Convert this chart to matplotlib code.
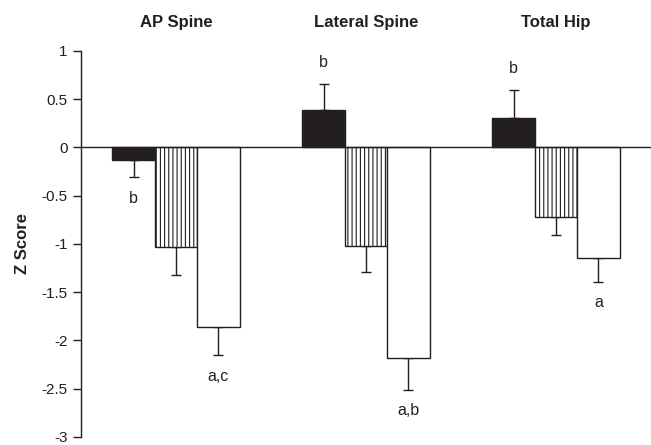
#!/usr/bin/env python3
import matplotlib
matplotlib.use("Agg")
import matplotlib.pyplot as plt
import numpy as np

# regions and groups
regions = ["AP Spine", "Lateral Spine", "Total Hip"]
group_a = [-0.13, 0.39, 0.31]      # solid black bars
group_b = [-1.03, -1.02, -0.72]    # vertical stripes
group_c = [-1.86, -2.18, -1.15]    # white bars
err_a = [0.18, 0.27, 0.29]
err_b = [0.29, 0.27, 0.19]
err_c = [0.29, 0.33, 0.24]
# significance letters, one per bar ("" = none)
sig_a = ["b", "b", "b"]
sig_b = ["", "", ""]
sig_c = ["a,c", "a,b", "a"]

yticks = [1, 0.5, 0, -0.5, -1, -1.5, -2, -2.5, -3]
ytick_labels = ["1", "0.5", "0", "-0.5", "-1", "-1.5", "-2", "-2.5", "-3"]

ink = "#231f20"
plt.rcParams['font.family'] = ['Liberation Sans', 'DejaVu Sans']
plt.rcParams['hatch.linewidth'] = 0.8
plt.rcParams['hatch.color'] = ink

fig = plt.figure(figsize=(6.51, 4.45), dpi=100)
ax = fig.add_axes([0.1244, 0.018, 0.8756, 0.8674])

x = np.arange(len(regions))
w = 0.223

series = [
    (group_a, err_a, sig_a, dict(color=ink, edgecolor=ink)),
    (group_b, err_b, sig_b, dict(color="white", edgecolor=ink, hatch="||||")),
    (group_c, err_c, sig_c, dict(color="white", edgecolor=ink)),
]

for i, (vals, errs, sigs, style) in enumerate(series):
    pos = x + (i - 1) * w
    vals = np.array(vals)
    errs = np.array(errs)
    ax.bar(pos, vals, w, linewidth=1.0, zorder=2, **style)
    # one-sided error bars, pointing away from zero
    lower = np.where(vals < 0, errs, 0)
    upper = np.where(vals >= 0, errs, 0)
    ax.errorbar(pos, vals, yerr=[lower, upper], fmt="none", ecolor=ink,
                elinewidth=1.0, capsize=3.6, capthick=1.0, zorder=1)
    for p, v, e, s in zip(pos, vals, errs, sigs):
        if not s:
            continue
        y = v + e + 0.22 if v >= 0 else v - e - 0.22
        ax.text(p, y, s, ha="center", va="center", fontsize=11.5, color=ink)

for xi, name in zip(x, regions):
    ax.text(xi, 1.3, name, ha="center", va="center", fontsize=12,
            fontweight="bold", color=ink, clip_on=False)

ax.axhline(0, color=ink, linewidth=1.0, zorder=3)

ax.set_xlim(-0.5, 2.5)
ax.set_ylim(-3, 1)
ax.set_yticks(yticks)
ax.set_yticklabels(ytick_labels)
ax.set_xticks([])
ax.tick_params(axis="y", direction="out", length=6, width=1.0, pad=3.5,
               colors=ink, labelsize=11)
for side in ["top", "right", "bottom"]:
    ax.spines[side].set_visible(False)
ax.spines["left"].set_color(ink)
ax.spines["left"].set_linewidth(1.0)

ax.set_ylabel("Z Score", fontsize=12, fontweight="bold", color=ink)
ax.yaxis.set_label_coords(-0.09, 0.5)

fig.savefig("out.png", dpi=100)
